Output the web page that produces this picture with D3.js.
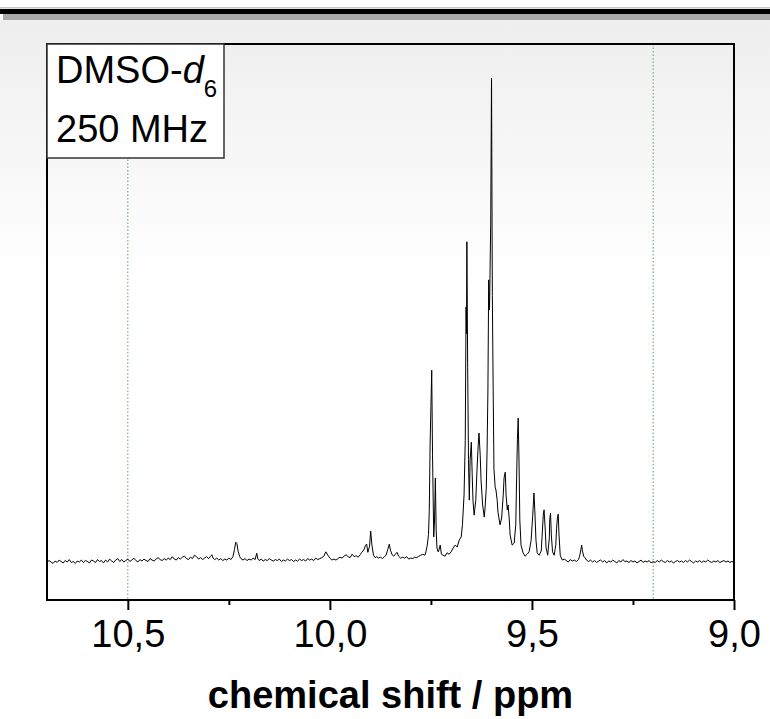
<!DOCTYPE html>
<html>
<head>
<meta charset="utf-8">
<script src="https://cdn.jsdelivr.net/npm/d3@7"></script>
<style>
  body { margin: 0; background: #fff; }
  svg { display: block; }
</style>
</head>
<body>
<div id="chart"></div>
<script>
// 1H NMR, DMSO-d6, 250 MHz
// [chemical shift / ppm, intensity / % of tallest peak]
var baselineLeft = [
  [10.700,-0.3],[10.695,0.1],[10.690,-0.2],[10.685,-0.5],[10.680,0.0],[10.675,-0.3],[10.670,0.2],[10.665,-0.1],
  [10.660,-0.4],[10.655,0.1],[10.650,-0.2],[10.645,0.3],[10.640,-0.3],[10.635,-0.1],[10.630,-0.5],[10.625,0.0],
  [10.620,-0.2],[10.615,0.2],[10.610,-0.3],[10.605,0.1],[10.600,-0.1],[10.595,-0.4],[10.590,0.2],[10.585,0.0],
  [10.580,-0.3],[10.575,0.3],[10.570,-0.1],[10.565,0.1],[10.560,-0.4],[10.555,0.2],[10.550,-0.2],[10.545,0.4],
  [10.540,0.0],[10.535,-0.3],[10.530,0.2],[10.525,0.5],[10.520,-0.1],[10.515,0.3],[10.510,-0.2],[10.505,0.1],
  [10.500,0.4],[10.495,-0.1],[10.490,0.2],[10.485,0.6],[10.480,0.1],[10.475,-0.2],[10.470,0.3],[10.465,0.0],
  [10.460,0.4],[10.455,0.1],[10.450,-0.1],[10.445,0.5],[10.440,0.2],[10.435,0.0],[10.430,0.4],[10.425,0.7],
  [10.420,0.3],[10.415,0.1],[10.410,0.5],[10.405,0.2],[10.400,0.6],[10.395,0.3],[10.390,0.9],[10.385,0.4],
  [10.380,0.2],[10.375,0.7],[10.370,0.4],[10.365,0.8],[10.360,1.0],[10.355,0.5],[10.350,0.3],[10.345,0.8],
  [10.340,0.5],[10.335,1.2],[10.330,0.9],[10.325,0.4],[10.320,0.7],[10.315,0.3],[10.310,0.6],[10.305,0.9],
  [10.300,0.5],[10.295,1.0],[10.292,1.3],[10.289,0.6],[10.285,0.3],[10.280,0.6],[10.275,0.2],[10.270,0.5],
  [10.265,0.1],[10.260,0.4],[10.255,0.2],[10.250,0.6],[10.245,0.3],[10.240,0.9],[10.236,2.4],[10.233,3.9],
  [10.230,3.6],[10.227,2.0],[10.223,0.9],[10.220,0.5],[10.215,0.2],[10.210,0.5],[10.205,0.1],[10.200,0.4],
  [10.195,0.2],[10.190,0.6],[10.185,0.3],[10.181,1.6],[10.178,0.4],[10.175,0.1],[10.170,0.4],[10.165,0.0],
  [10.160,0.3],[10.155,0.1],[10.150,0.5],[10.145,0.2],[10.140,0.0],[10.135,0.3],[10.130,0.1],[10.125,0.4],
  [10.120,-0.1],[10.115,0.2],[10.110,0.0],[10.105,0.4],[10.100,0.1],[10.095,0.3],[10.090,-0.1],[10.085,0.2],
  [10.080,0.0],[10.075,0.4],[10.070,0.1],[10.065,0.3],[10.060,0.0],[10.055,0.5],[10.050,0.2],[10.045,0.4],
  [10.040,0.1],[10.035,0.6],[10.030,0.3],[10.025,0.5],[10.020,0.7],[10.015,1.0],[10.010,1.9],[10.005,1.2],
  [10.000,0.6],[9.995,0.2],[9.990,0.4],[9.985,0.2],[9.980,0.5],[9.975,0.8],[9.970,0.6],[9.965,1.0],
  [9.960,1.3],[9.955,0.9],[9.950,0.7],[9.945,1.4],[9.940,0.9],[9.935,1.1],[9.930,0.8],[9.925,1.3],
  [9.921,1.8],[9.916,2.3],[9.912,3.2],[9.909,3.5],[9.906,1.8],[9.902,3.0],[9.899,6.2],[9.896,3.3],
  [9.892,1.2],[9.888,0.7],[9.884,0.9],[9.880,0.6],[9.875,0.8],[9.870,0.5],[9.865,0.9],[9.861,1.2],
  [9.857,2.3],[9.853,3.5],[9.850,2.2],[9.846,1.3],[9.842,1.0],[9.838,1.4],[9.834,1.8],[9.830,1.0],
  [9.825,0.6],[9.820,0.8],[9.815,0.6],[9.810,0.9],[9.805,0.4],[9.800,0.6],[9.795,0.5],[9.790,0.8],
  [9.785,0.7],[9.780,1.0],[9.775,1.2],[9.770,1.4],[9.765,1.2]
];

var peakCluster = [
  [9.762,2.0],[9.759,3.3],[9.756,5.5],[9.754,10.6],[9.752,24.0],[9.750,32.0],[9.748,39.5],[9.746,22.0],
  [9.743,5.0],[9.741,8.5],[9.739,17.2],[9.737,6.4],[9.735,2.7],[9.732,1.9],[9.730,2.3],[9.727,3.3],
  [9.724,1.4],[9.720,1.2],[9.715,1.0],[9.710,1.7],[9.705,1.4],[9.700,1.9],[9.695,2.7],[9.690,3.3],
  [9.685,2.9],[9.680,4.3],[9.675,5.0],[9.672,7.5],[9.668,13.7],[9.665,25.0],[9.663,52.6],[9.662,47.0],
  [9.661,66.1],[9.659,40.0],[9.657,21.0],[9.655,12.6],[9.653,20.9],[9.650,24.6],[9.648,18.4],[9.646,12.6],
  [9.643,9.5],[9.639,12.6],[9.636,18.8],[9.633,24.0],[9.631,26.5],[9.628,21.9],[9.626,16.8],[9.622,11.6],
  [9.618,9.1],[9.616,11.0],[9.613,15.1],[9.611,23.0],[9.609,35.0],[9.607,58.2],[9.605,52.0],[9.602,70.0],
  [9.600,100.0],[9.598,55.0],[9.596,36.0],[9.594,19.0],[9.591,15.3],[9.589,14.7],[9.586,12.6],[9.584,10.1],
  [9.579,7.5],[9.575,8.9],[9.571,13.7],[9.569,17.2],[9.566,18.4],[9.564,13.7],[9.561,10.6],[9.559,11.6],
  [9.556,8.5],[9.554,5.4],[9.549,3.3],[9.544,3.7],[9.540,7.5],[9.538,16.8],[9.536,25.1],[9.534,29.6],
  [9.532,20.9],[9.530,8.5],[9.527,3.3],[9.522,1.7],[9.517,1.0],[9.512,1.4],[9.507,1.9],[9.502,4.3],
  [9.498,9.5],[9.496,12.6],[9.495,14.1],[9.493,10.6],[9.490,4.3],[9.487,1.7],[9.482,1.2],[9.477,2.1],
  [9.474,6.4],[9.472,9.5],[9.470,10.6],[9.467,6.4],[9.465,2.7],[9.461,1.2],[9.457,4.8],[9.456,8.5],
  [9.454,9.9],[9.452,5.4],[9.449,1.9],[9.445,1.2],[9.441,3.3],[9.439,6.8],[9.437,8.9],[9.435,9.7],
  [9.433,5.4],[9.430,1.2],[9.425,0.2]
];

var baselineRight = [
  [9.420,0.4],[9.415,0.1],[9.410,-0.2],[9.405,0.3],[9.400,0.0],[9.395,0.2],[9.390,-0.1],[9.385,0.3],
  [9.382,1.0],[9.379,2.3],[9.377,3.3],[9.375,2.1],[9.372,1.0],[9.368,0.6],[9.365,0.2],[9.360,-0.1],
  [9.355,0.2],[9.350,-0.2],[9.345,0.1],[9.340,-0.3],[9.335,0.0],[9.330,0.2],[9.325,-0.2],[9.320,0.1],
  [9.315,-0.4],[9.310,0.0],[9.305,-0.2],[9.300,0.2],[9.295,-0.1],[9.290,-0.4],[9.285,0.1],[9.280,-0.2],
  [9.275,0.3],[9.270,-0.1],[9.265,0.0],[9.260,-0.3],[9.255,0.1],[9.250,-0.2],[9.245,0.0],[9.240,-0.4],
  [9.235,-0.1],[9.230,0.2],[9.225,-0.3],[9.220,0.0],[9.215,-0.2],[9.210,0.1],[9.205,-0.4],[9.200,-0.1],
  [9.195,-0.3],[9.190,0.1],[9.185,-0.2],[9.180,0.2],[9.175,-0.1],[9.170,-0.3],[9.165,0.1],[9.160,-0.2],
  [9.155,0.0],[9.150,-0.4],[9.145,-0.1],[9.140,0.1],[9.135,-0.2],[9.130,0.0],[9.125,-0.3],[9.120,0.1],
  [9.115,-0.2],[9.110,0.2],[9.105,-0.1],[9.100,-0.4],[9.095,0.0],[9.090,-0.2],[9.085,0.1],[9.080,-0.3],
  [9.075,0.0],[9.070,-0.2],[9.065,0.2],[9.060,-0.1],[9.055,-0.3],[9.050,0.0],[9.045,-0.2],[9.040,0.1],
  [9.035,-0.3],[9.030,-0.1],[9.025,0.1],[9.020,-0.2],[9.015,0.0],[9.010,-0.3],[9.005,-0.1],[9.000,-0.2]
];

var majorTicks = [10.5, 10.0, 9.5, 9.0];
var minorTicks = [10.25, 9.75, 9.25];
var markerLines = [10.5, 9.2];   // green dotted guides
var labelLines = ["DMSO-", "250 MHz"];

var width = 770, height = 719;
var plotLeft = 47, plotRight = 734, plotTop = 44, plotBottom = 600;

var svg = d3.select("#chart").append("svg")
  .attr("width", width)
  .attr("height", height)
  .style("font-family", "'Liberation Sans', Arial, sans-serif");

// background: grey fade from the top + header bar
var defs = svg.append("defs");
var grad = defs.append("linearGradient")
  .attr("id", "bg").attr("x1", 0).attr("y1", 0).attr("x2", 0).attr("y2", 1);
grad.append("stop").attr("offset", "0").attr("stop-color", "#eeeeee");
grad.append("stop").attr("offset", "1").attr("stop-color", "#ffffff");

svg.append("rect").attr("width", width).attr("height", height).attr("fill", "#fff");
svg.append("rect").attr("x", 0).attr("y", 20).attr("width", width).attr("height", 260).attr("fill", "url(#bg)");
svg.append("rect").attr("x", 0).attr("y", 7).attr("width", width).attr("height", 1.5).attr("fill", "#c4c4c4");
svg.append("rect").attr("x", 0).attr("y", 9).attr("width", width).attr("height", 5).attr("fill", "#000");
svg.append("rect").attr("x", 3).attr("y", 14).attr("width", width).attr("height", 6).attr("fill", "#a8a8a8");

var x = d3.scaleLinear().domain([10.7, 9.0]).range([plotLeft, plotRight]);
var y = d3.scaleLinear().domain([-8.07, 107.04]).range([plotBottom, plotTop]);

defs.append("clipPath").attr("id", "plotclip")
  .append("rect").attr("x", plotLeft).attr("y", plotTop)
  .attr("width", plotRight - plotLeft).attr("height", plotBottom - plotTop);

// guides
svg.selectAll(".guide").data(markerLines).enter().append("line")
  .attr("class", "guide")
  .attr("x1", function(d) { return x(d); })
  .attr("x2", function(d) { return x(d); })
  .attr("y1", plotTop).attr("y2", plotBottom)
  .attr("stroke", "#4caf4c")
  .attr("stroke-width", 1)
  .attr("stroke-dasharray", "1.5,2");

// spectrum
var spectrum = baselineLeft.concat(peakCluster, baselineRight);
var line = d3.line()
  .x(function(d) { return x(d[0]); })
  .y(function(d) { return y(d[1]); });

svg.append("path")
  .datum(spectrum)
  .attr("clip-path", "url(#plotclip)")
  .attr("d", line)
  .attr("fill", "none")
  .attr("stroke", "#000")
  .attr("stroke-width", 1)
  .attr("stroke-linejoin", "round");

// frame
svg.append("rect")
  .attr("x", plotLeft).attr("y", plotTop)
  .attr("width", plotRight - plotLeft).attr("height", plotBottom - plotTop)
  .attr("fill", "none")
  .attr("stroke", "#000")
  .attr("stroke-width", 2);

// x axis
var xAxis = d3.axisBottom(x)
  .tickValues(majorTicks)
  .tickSize(10)
  .tickFormat(function(d) { return d3.format(".1f")(d).replace(".", ","); });

var gx = svg.append("g")
  .attr("transform", "translate(0," + plotBottom + ")")
  .call(xAxis);
gx.select(".domain").remove();
gx.selectAll(".tick line").attr("stroke", "#000").attr("stroke-width", 2);
gx.selectAll(".tick text")
  .attr("y", 47).attr("dy", null)
  .attr("fill", "#000")
  .style("font-size", "38px")
  .style("font-family", "'Liberation Sans', Arial, sans-serif");

var gm = svg.append("g")
  .attr("transform", "translate(0," + plotBottom + ")")
  .call(d3.axisBottom(x).tickValues(minorTicks).tickSize(5).tickFormat(""));
gm.select(".domain").remove();
gm.selectAll(".tick line").attr("stroke", "#000").attr("stroke-width", 2);

svg.append("text")
  .attr("x", (plotLeft + plotRight) / 2)
  .attr("y", 708)
  .attr("text-anchor", "middle")
  .style("font-size", "38px")
  .style("font-weight", "bold")
  .text("chemical shift / ppm");

// label box
svg.append("rect")
  .attr("x", plotLeft).attr("y", plotTop)
  .attr("width", 177).attr("height", 114)
  .attr("fill", "#fff")
  .attr("stroke", "#333")
  .attr("stroke-width", 1.5);

var t1 = svg.append("text")
  .attr("x", 56).attr("y", 83)
  .style("font-size", "38px");
t1.append("tspan").text(labelLines[0]);
t1.append("tspan").style("font-style", "italic").text("d");
t1.append("tspan").attr("dy", 14).style("font-size", "24px").text("6");

svg.append("text")
  .attr("x", 56).attr("y", 142)
  .style("font-size", "38px")
  .text(labelLines[1]);
</script>
</body>
</html>
